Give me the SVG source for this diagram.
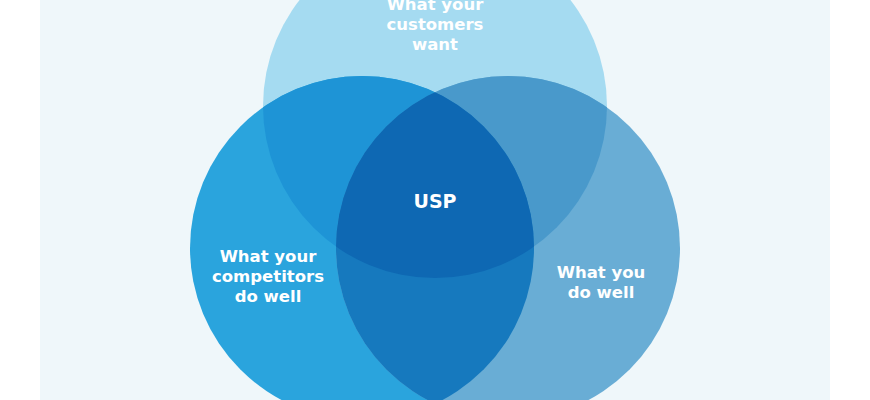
<svg xmlns="http://www.w3.org/2000/svg" width="870" height="400" viewBox="0 0 870 400">
<style>
.lbl{font-family:"DejaVu Sans","Liberation Sans",sans-serif;font-weight:700;font-size:16.5px;fill:#ffffff;text-anchor:middle}
.usp{font-size:19px}
</style>
<defs>
<clipPath id="cpT"><circle cx="435" cy="106" r="172"/></clipPath>
<clipPath id="cpR"><circle cx="508" cy="248" r="172"/></clipPath>
</defs>
<rect x="0" y="0" width="870" height="400" fill="#ffffff"/>
<rect x="40" y="0" width="790" height="400" fill="#EFF7FA"/>
<g id="customers">
<circle cx="435" cy="106" r="172" fill="#A5DBF1"/>
</g>
<g id="competitors">
<circle cx="362" cy="248" r="172" fill="#2AA4DD"/>
</g>
<g id="you">
<circle cx="508" cy="248" r="172" fill="#69ADD5"/>
</g>
<g id="overlaps">
<circle cx="362" cy="248" r="172" fill="#1E94D6" clip-path="url(#cpT)"/>
<circle cx="508" cy="248" r="172" fill="#4999CB" clip-path="url(#cpT)"/>
<circle cx="362" cy="248" r="172" fill="#1679BE" clip-path="url(#cpR)"/>
<g clip-path="url(#cpT)"><circle cx="362" cy="248" r="172" fill="#0E68B3" clip-path="url(#cpR)"/></g>
</g>
<g id="labels">
<text class="lbl" x="435" y="10">What your</text>
<text class="lbl" x="435" y="30">customers</text>
<text class="lbl" x="435" y="50">want</text>
<text class="lbl usp" x="435" y="208">USP</text>
<text class="lbl" x="268" y="262">What your</text>
<text class="lbl" x="268" y="282">competitors</text>
<text class="lbl" x="268" y="302">do well</text>
<text class="lbl" x="601" y="278">What you</text>
<text class="lbl" x="601" y="298">do well</text>
</g>
<g id="connectors"/>
</svg>
